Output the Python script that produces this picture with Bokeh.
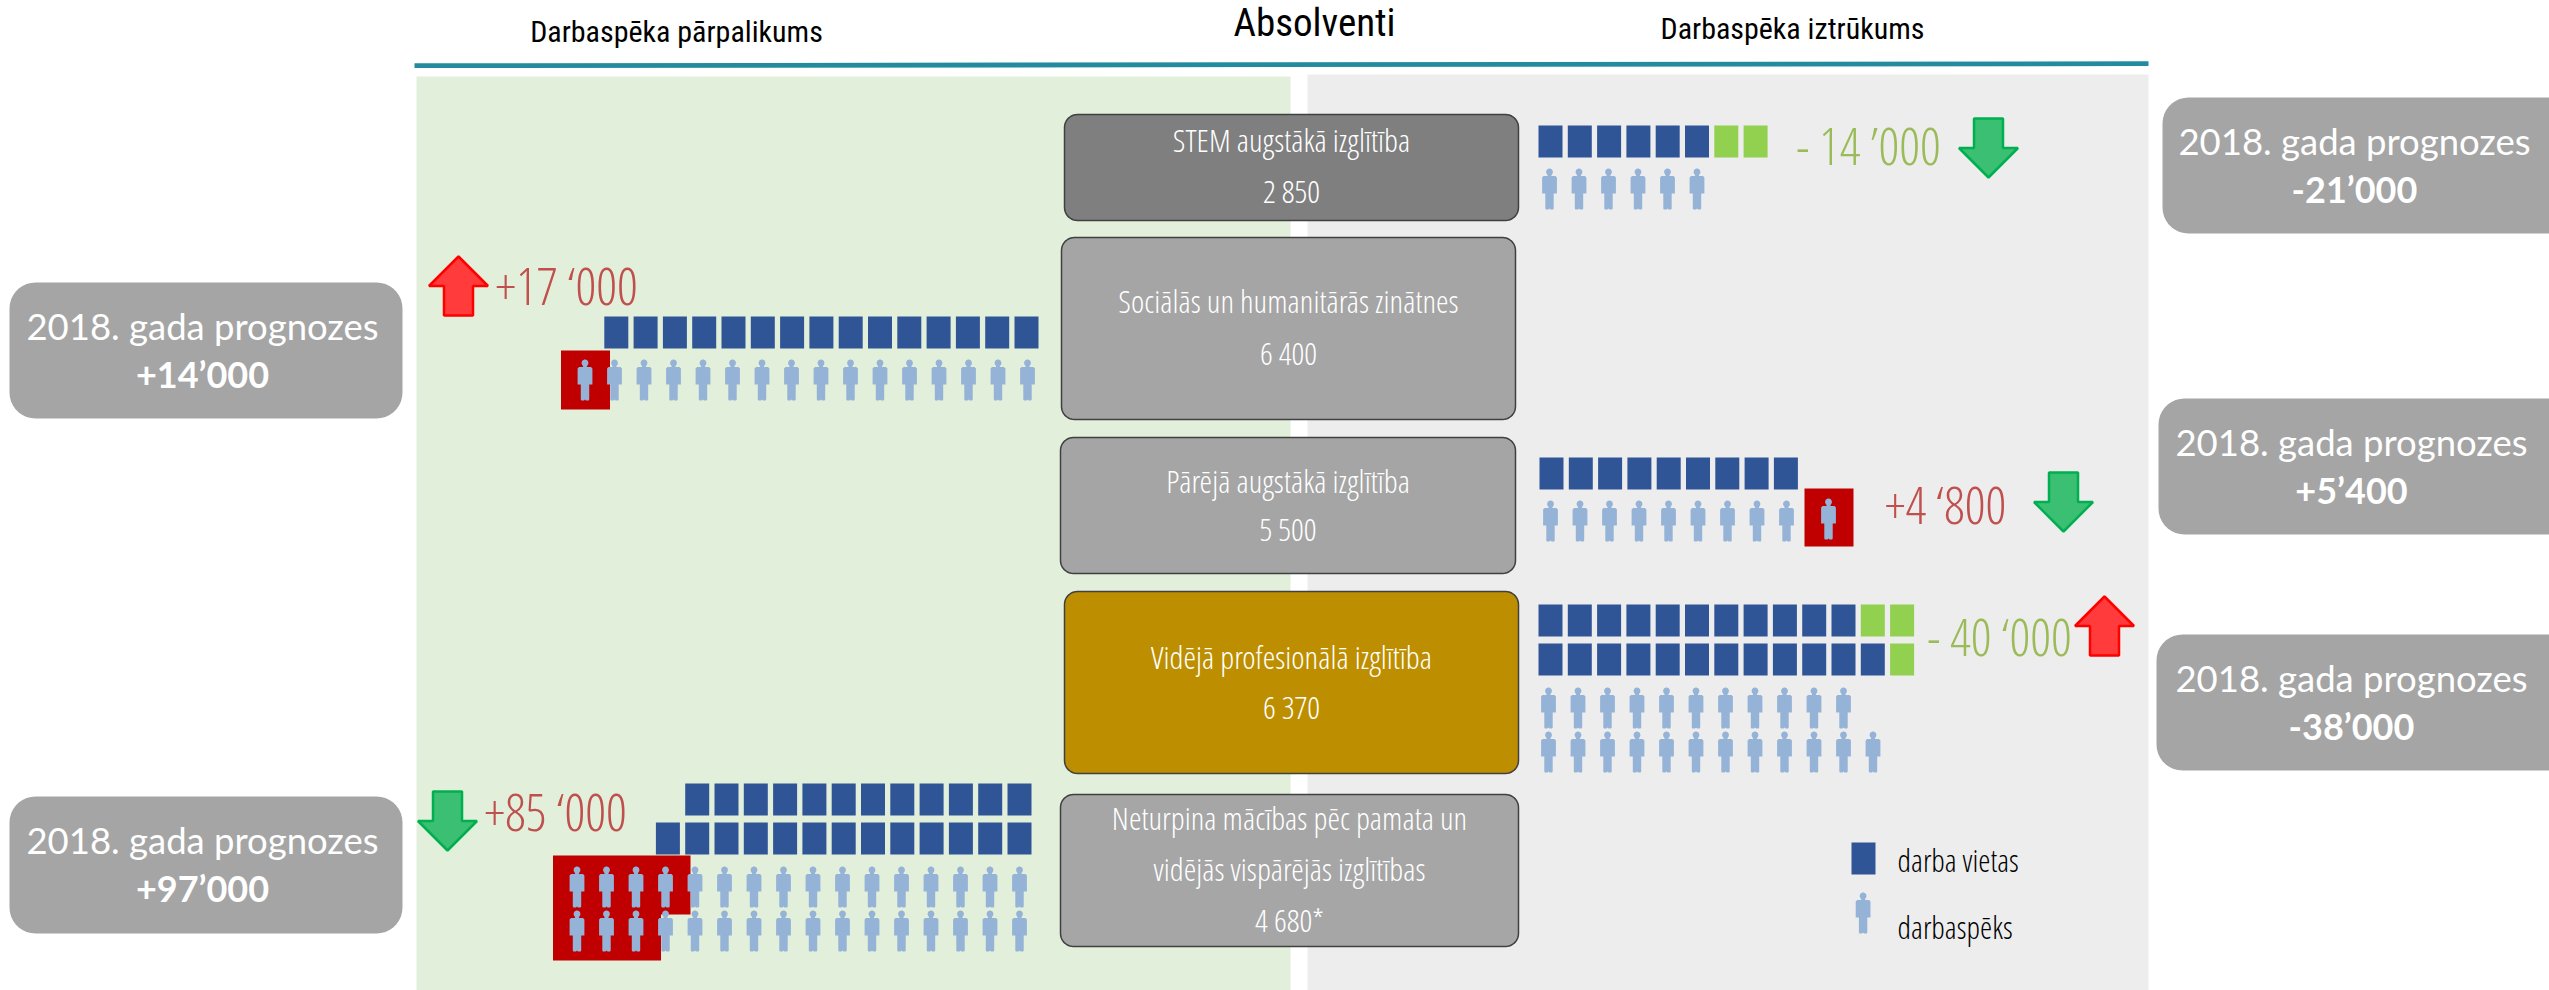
import numpy as np
from bokeh.plotting import figure
from bokeh.models import Range1d
from bokeh.core.properties import value
from bokeh.embed import file_html
from bokeh.resources import INLINE

# ---------- data ----------
headers = ["Darbaspēka pārpalikums", "Absolventi", "Darbaspēka iztrūkums"]
box_lines = [
    ["STEM augstākā izglītība", "2 850"],
    ["Sociālās un humanitārās zinātnes", "6 400"],
    ["Pārējā augstākā izglītība", "5 500"],
    ["Vidējā profesionālā izglītība", "6 370"],
    ["Neturpina mācības pēc pamata un", "vidējās vispārējās izglītības", "4 680*"],
]
gap_labels = ["- 14 ’000", "+17 ‘000", "+4 ‘800", "- 40 ‘000", "+85 ‘000"]
gap_up = [False, True, False, True, False]
forecast_labels = ["-21’000", "+14’000", "+5’400", "-38’000", "+97’000"]
forecast_title = "2018. gada prognozes"
jobs_blue = [[6], [15], [9], [11, 12], [12, 13]]
jobs_green = [[2], [0], [0], [2, 1], [0, 0]]
labour_blue = [[6], [15], [9], [11, 12], [12, 13]]
labour_red = [[0], [1], [1], [0, 0], [4, 3]]
legend_labels = ["darba vietas", "darbaspēks"]

# ---------- styles and layout (reference pixels) ----------
W, H = 2549, 990
BLUE, GREEN, RED, PERSON = "#2f5597", "#92d050", "#c00000", "#95b3d7"
LIGHT = value("Open Sans Condensed Light")
HEAD = value("Roboto Condensed")
LATO = value("Lato")
SQ_W, SQ_H, PITCH, PERSON_PITCH = 24, 32, 29.3, 29.5

box_geom = [(1064, 1518, 114, 220), (1061, 1515, 237, 419), (1060, 1515, 437, 573),
            (1064, 1518, 591, 773), (1060, 1518, 794, 946)]
box_fill = ["#7f7f7f", "#a5a5a5", "#a5a5a5", "#bd8f00", "#a6a6a6"]
box_base = [[152, 203], [313, 365], [493, 541], [669, 719], [830, 881, 932]]
side_geom = [(2162, 2575, 97, 233), (9, 402, 282, 418), (2158, 2575, 398, 534),
             (2156, 2575, 634, 770), (9, 402, 796, 933)]
side_cx = [2354, 202, 2351, 2351, 202]
side_base = [(155, 203), (340, 388), (456, 504), (692, 740), (854, 902)]
gap_x = [1868, 566, 1945, 1999, 555]
gap_base = [166, 306, 525, 657, 832]
gap_col = ["#9bbb59", "#c0504d", "#c0504d", "#9bbb59", "#c0504d"]
arrow_x = [1988, 458, 2063, 2104, 447]
arrow_top = [118, 256, 472, 596, 791]
jobs_y = [[125], [316], [457], [604, 643], [783, 822]]
labour_y = [[168], [359], [500], [687, 731], [866, 910]]
# left-panel rows are right aligned, right-panel rows left aligned
jobs_anchor = [1538, 1038, 1539, 1538, 1031]
labour_anchor = [1549, 1027, 1550, 1548, 1019]
on_left = [False, True, False, False, True]
red_bands = [[], [(350, 409)], [(488, 546)], [], [(855, 914), (913, 960)]]
# the renderer sets alphabetic text lower than the given y, by this share of the size
SHIFT_LIGHT, SHIFT_HEAD, SHIFT_LATO = 0.42, 0.40, 0.40


def rounded(x0, x1, y0, y1, r):
    xs, ys = [], []
    for cx, cy, a0 in [(x1 - r, y0 + r, -90), (x1 - r, y1 - r, 0), (x0 + r, y1 - r, 90), (x0 + r, y0 + r, 180)]:
        t = np.radians(np.linspace(a0, a0 + 90, 10))
        xs += list(cx + r * np.cos(t))
        ys += list(cy + r * np.sin(t))
    return xs, ys


def person(cx, top):
    t = np.radians(np.linspace(130, 410, 16))
    hx = list(cx + 3.4 * np.cos(t))
    hy = list(top + 3.5 + 3.5 * np.sin(t))
    bx = [cx + 1.8, cx + 6, cx + 7.4, cx + 7.4, cx + 4.2, cx + 4.2, cx + 3.6, cx + 1, cx, cx - 1, cx - 3.6, cx - 4.2,
          cx - 4.2, cx - 7.4, cx - 7.4, cx - 6, cx - 1.8]
    by = [top + 7.4, top + 7.4, top + 9, top + 25, top + 25, top + 40, top + 41, top + 41, top + 40, top + 41,
          top + 41, top + 40, top + 25, top + 25, top + 9, top + 7.4, top + 7.4]
    return hx + bx, hy + by


def arrow(cx, top, up):
    hw, sw, h, sh = 29.5, 14.5, 59, 29.5
    if up:
        return ([cx, cx + hw, cx + sw, cx + sw, cx - sw, cx - sw, cx - hw],
                [top, top + sh, top + sh, top + h, top + h, top + sh, top + sh])
    return ([cx - sw, cx + sw, cx + sw, cx + hw, cx, cx - hw, cx - sw],
            [top, top, top + sh, top + sh, top + h, top + sh, top + sh])


p = figure(width=W, height=H, x_range=Range1d(0, W), y_range=Range1d(H, 0),
           output_backend="svg", toolbar_location=None, min_border=0)
p.axis.visible = False
p.grid.visible = False
p.outline_line_color = None
p.background_fill_color = "white"
p.border_fill_color = "white"

# panels and header rule
p.quad(left=[416, 1307], right=[1290, 2148], top=[76, 74], bottom=[990, 990],
       fill_color=["#e2efda", "#ededed"], line_color=None)
p.line([414, 2148], [65.2, 63.2], line_color="#228b9d", line_width=4.8)

# red highlight blocks, squares and people, all from the counts
sq_l, sq_c, sq_t = [], [], []
px, py = [], []
red_l, red_r, red_t, red_b = [], [], [], []
for i in range(len(box_lines)):
    for j, (b, g) in enumerate(zip(jobs_blue[i], jobs_green[i])):
        n = b + g
        for k in range(n):
            if on_left[i]:
                left = jobs_anchor[i] - SQ_W - (n - 1 - k) * PITCH
            else:
                left = jobs_anchor[i] + k * PITCH
            sq_l.append(left)
            sq_c.append(BLUE if k < b else GREEN)
            sq_t.append(jobs_y[i][j])
    for j, (b, r) in enumerate(zip(labour_blue[i], labour_red[i])):
        n = b + r
        if on_left[i]:
            centres = [labour_anchor[i] - (n - 1 - k) * PERSON_PITCH for k in range(n)]
        else:
            # a surplus person on the right panel stands apart, after the row
            centres = [labour_anchor[i] + k * PERSON_PITCH + (12.5 if k >= b else 0) for k in range(n)]
        for c in centres:
            hx, hy = person(c, labour_y[i][j] - (2 if (r and not on_left[i] and c == centres[-1]) else 0))
            px.append(hx)
            py.append(hy)
        if r:
            if on_left[i]:
                lo, hi = centres[0] - 24, centres[r - 1] + 25
            else:
                lo, hi = centres[-1] - 24, centres[-1] + 25
            red_l.append(lo)
            red_r.append(hi)
            red_t.append(red_bands[i][j][0])
            red_b.append(red_bands[i][j][1])

p.quad(left=red_l, right=red_r, top=red_t, bottom=red_b, fill_color=RED, line_color=None)
p.quad(left=sq_l, right=[v + SQ_W for v in sq_l], top=sq_t, bottom=[v + SQ_H for v in sq_t],
       fill_color=sq_c, line_color=None)

# legend marks
p.quad(left=[1851], right=[1851 + SQ_W], top=[842], bottom=[842 + SQ_H], fill_color=BLUE, line_color=None)
hx, hy = person(1862.6, 892)
px.append(hx)
py.append(hy)
p.patches(px, py, fill_color=PERSON, line_color=None)

# arrows
for cx, top, up in zip(arrow_x, arrow_top, gap_up):
    ax, ay = arrow(cx, top, up)
    p.patch(ax, ay, fill_color="#ff3b3b" if up else "#3bbf72", line_color="#ff0000" if up else "#00b050",
            line_width=2.5)

# boxes
bxs, bys = zip(*[rounded(*g, 13) for g in box_geom])
p.patches(list(bxs), list(bys), fill_color=box_fill, line_color="#404040", line_width=1.5)
sxs, sys_ = zip(*[rounded(*g, 26) for g in side_geom])
p.patches(list(sxs), list(sys_), fill_color="#a5a5a5", line_color=None)


def texts(xs, ys, labels, font, size, color, shift, align="center", style="normal"):
    p.text(xs, [y - shift * size for y in ys], text=labels, text_font=font, text_font_size=f"{size}px",
           text_color=color, text_align=align, text_baseline="alphabetic", text_font_style=style)


head_sizes = [30, 39, 30]
for x, y, label, size in zip([676, 1314, 1792], [43, 38, 39.6], headers, head_sizes):
    texts([x], [y], [label], HEAD, size, "black", SHIFT_HEAD)
for g, lines, base in zip(box_geom, box_lines, box_base):
    cx = (g[0] + g[1]) / 2
    texts([cx] * len(lines), base, lines, LIGHT, 32, "#ffffff", SHIFT_LIGHT)
texts(gap_x, gap_base, gap_labels, LIGHT, 52, gap_col, SHIFT_LIGHT)
texts(side_cx, [b[0] for b in side_base], [forecast_title] * 5, LATO, 36.5, "#ffffff", SHIFT_LATO)
texts(side_cx, [b[1] for b in side_base], forecast_labels, LATO, 36, "#ffffff", SHIFT_LATO, style="bold")
texts([1897, 1897], [873, 940], legend_labels, LIGHT, 31, "black", SHIFT_LIGHT, align="left")

open("out.html", "w").write(file_html(p, INLINE))
